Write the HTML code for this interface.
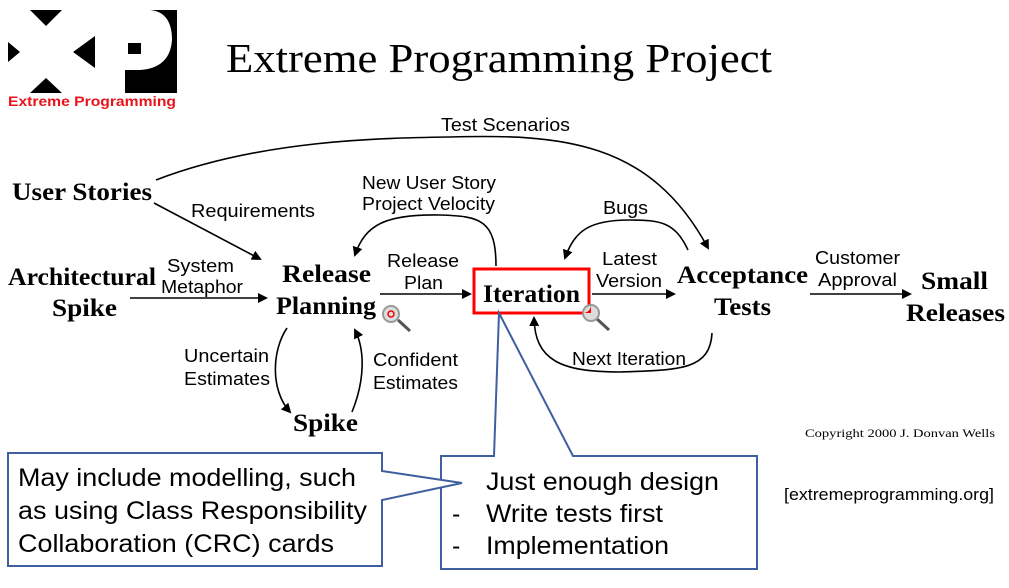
<!DOCTYPE html>
<html><head><meta charset="utf-8"><style>
html,body{margin:0;padding:0;background:#fff;}
svg{display:block;}
.s{font-family:"Liberation Serif",serif;font-weight:bold;fill:#000;}
.a{font-family:"Liberation Sans",sans-serif;font-size:18px;fill:#000;}
.b{font-family:"Liberation Sans",sans-serif;font-size:25px;fill:#000;}
</style></head><body>
<svg width="1009" height="588" viewBox="0 0 1009 588" xmlns="http://www.w3.org/2000/svg">
<defs><marker id="ar" markerWidth="10" markerHeight="10" refX="8" refY="5" orient="auto" markerUnits="userSpaceOnUse"><path d="M0,0 L10,5 L0,10 Z" fill="#000"/></marker></defs>
<!-- logo -->
<rect x="8" y="10" width="169" height="83" fill="#000"/>
<polygon points="8,10 30,10 46,26 62,10 95,10 95,36 73,52 95,68 95,93 62,93 46,78 30,93 8,93 8,62 20,52 8,42" fill="#fff"/>
<path d="M95,10 L150,10 Q172,12 172,40 Q170,68 140,70 L125,70 L125,93 L95,93 Z" fill="#fff"/>
<rect x="128" y="43" width="13" height="11" fill="#000"/>
<rect x="0" y="93" width="180" height="17" fill="#fff"/>
<text x="8" y="106" font-family="Liberation Sans,sans-serif" font-weight="bold" font-size="14" fill="#e8141c" textLength="168" lengthAdjust="spacingAndGlyphs">Extreme Programming</text>
<text x="226" y="72" font-family="Liberation Serif,serif" font-size="41" fill="#000" textLength="546" lengthAdjust="spacingAndGlyphs">Extreme Programming Project</text>
<!-- nodes -->
<text class="s" x="12" y="200" font-size="25" textLength="140" lengthAdjust="spacingAndGlyphs">User Stories</text>
<text class="s" x="8" y="285" font-size="25" textLength="148" lengthAdjust="spacingAndGlyphs">Architectural</text>
<text class="s" x="52" y="316" font-size="25" textLength="65" lengthAdjust="spacingAndGlyphs">Spike</text>
<text class="s" x="282" y="282" font-size="25" textLength="89" lengthAdjust="spacingAndGlyphs">Release</text>
<text class="s" x="276" y="314" font-size="25" textLength="100" lengthAdjust="spacingAndGlyphs">Planning</text>
<text class="s" x="677" y="283" font-size="25" textLength="131" lengthAdjust="spacingAndGlyphs">Acceptance</text>
<text class="s" x="714" y="315" font-size="25" textLength="57" lengthAdjust="spacingAndGlyphs">Tests</text>
<text class="s" x="921" y="289" font-size="25" textLength="67" lengthAdjust="spacingAndGlyphs">Small</text>
<text class="s" x="906" y="321" font-size="25" textLength="99" lengthAdjust="spacingAndGlyphs">Releases</text>
<text class="s" x="293" y="431" font-size="25" textLength="65" lengthAdjust="spacingAndGlyphs">Spike</text>
<!-- labels -->
<text class="a" x="441" y="131" textLength="129" lengthAdjust="spacingAndGlyphs">Test Scenarios</text>
<text class="a" x="191" y="217" textLength="124" lengthAdjust="spacingAndGlyphs">Requirements</text>
<text class="a" x="362" y="189" textLength="134" lengthAdjust="spacingAndGlyphs">New User Story</text>
<text class="a" x="362" y="210" textLength="133" lengthAdjust="spacingAndGlyphs">Project Velocity</text>
<text class="a" x="603" y="214" textLength="45" lengthAdjust="spacingAndGlyphs">Bugs</text>
<text class="a" x="167" y="272" textLength="67" lengthAdjust="spacingAndGlyphs">System</text>
<text class="a" x="161" y="293" textLength="82" lengthAdjust="spacingAndGlyphs">Metaphor</text>
<text class="a" x="387" y="267" textLength="72" lengthAdjust="spacingAndGlyphs">Release</text>
<text class="a" x="404" y="289" textLength="39" lengthAdjust="spacingAndGlyphs">Plan</text>
<text class="a" x="602" y="265" textLength="55" lengthAdjust="spacingAndGlyphs">Latest</text>
<text class="a" x="596" y="287" textLength="66" lengthAdjust="spacingAndGlyphs">Version</text>
<text class="a" x="815" y="264" textLength="85" lengthAdjust="spacingAndGlyphs">Customer</text>
<text class="a" x="818" y="286" textLength="79" lengthAdjust="spacingAndGlyphs">Approval</text>
<text class="a" x="184" y="362" textLength="85" lengthAdjust="spacingAndGlyphs">Uncertain</text>
<text class="a" x="184" y="385" textLength="86" lengthAdjust="spacingAndGlyphs">Estimates</text>
<text class="a" x="373" y="366" textLength="85" lengthAdjust="spacingAndGlyphs">Confident</text>
<text class="a" x="373" y="389" textLength="85" lengthAdjust="spacingAndGlyphs">Estimates</text>
<text class="a" x="572" y="365" textLength="114" lengthAdjust="spacingAndGlyphs">Next Iteration</text>
<text x="805" y="437" font-family="Liberation Serif,serif" font-size="12" fill="#000" textLength="190" lengthAdjust="spacingAndGlyphs">Copyright 2000 J. Donvan Wells</text>
<text x="784" y="500" font-family="Liberation Sans,sans-serif" font-size="17" fill="#000" textLength="210" lengthAdjust="spacingAndGlyphs">[extremeprogramming.org]</text>
<!-- connectors -->
<g fill="none" stroke="#000" stroke-width="1.6">
<path d="M156,180 C260,140 380,138 450,137 C560,134 650,140 708,248" marker-end="url(#ar)"/>
<path d="M154,203 L260,259" marker-end="url(#ar)"/>
<path d="M130,298 L266,298" marker-end="url(#ar)"/>
<path d="M380,294 L470,294" marker-end="url(#ar)"/>
<path d="M592,294 L674,294" marker-end="url(#ar)"/>
<path d="M810,294 L910,294" marker-end="url(#ar)"/>
<path d="M496,266 C496,220 480,216 440,215 C385,214 365,225 355,255" marker-end="url(#ar)"/>
<path d="M688,250 C675,222 660,220 630,220 C590,220 575,230 565,258" marker-end="url(#ar)"/>
<path d="M712,333 C710,370 680,370 620,372 C560,372 535,360 534,318" marker-end="url(#ar)"/>
<path d="M287,328 C272,350 270,390 290,412" marker-end="url(#ar)"/>
<path d="M352,412 C365,380 365,350 355,330" marker-end="url(#ar)"/>
</g>
<rect x="474" y="269" width="115" height="44" fill="#fff" stroke="#f00" stroke-width="3"/>
<text class="s" x="483" y="302" font-size="25" textLength="97" lengthAdjust="spacingAndGlyphs">Iteration</text>
<!-- magnifiers -->
<g><line x1="398" y1="320" x2="410" y2="331" stroke="#555" stroke-width="3"/><circle cx="391" cy="314" r="8" fill="#ddd" stroke="#999" stroke-width="2"/><circle cx="391" cy="314" r="3" fill="none" stroke="#e00" stroke-width="1.5"/></g>
<g><line x1="597" y1="319" x2="609" y2="330" stroke="#555" stroke-width="3"/><circle cx="591" cy="313" r="8" fill="#ddd" stroke="#999" stroke-width="2"/><path d="M583,313 L591,313 L591,305 A8,8 0 0 1 583,313Z" fill="#f00"/></g>
<!-- callouts -->
<path d="M441,456 L494,456 L499,313 L573,456 L757,456 L757,569 L441,569 Z" fill="#fff" stroke="#3f5f9f" stroke-width="2"/>
<path d="M8,453 L382,453 L382,471 L462,483 L382,500 L382,566 L8,566 Z" fill="#fff" stroke="#3f5f9f" stroke-width="2"/>
<text class="b" x="18" y="486" textLength="338" lengthAdjust="spacingAndGlyphs">May include modelling, such</text>
<text class="b" x="18" y="519" textLength="349" lengthAdjust="spacingAndGlyphs">as using Class Responsibility</text>
<text class="b" x="18" y="552" textLength="316" lengthAdjust="spacingAndGlyphs">Collaboration (CRC) cards</text>
<text class="b" x="486" y="490" textLength="233" lengthAdjust="spacingAndGlyphs">Just enough design</text>
<text class="b" x="452" y="522">-</text><text class="b" x="486" y="522" textLength="177" lengthAdjust="spacingAndGlyphs">Write tests first</text>
<text class="b" x="452" y="554">-</text><text class="b" x="486" y="554" textLength="183" lengthAdjust="spacingAndGlyphs">Implementation</text>
</svg>
</body></html>
